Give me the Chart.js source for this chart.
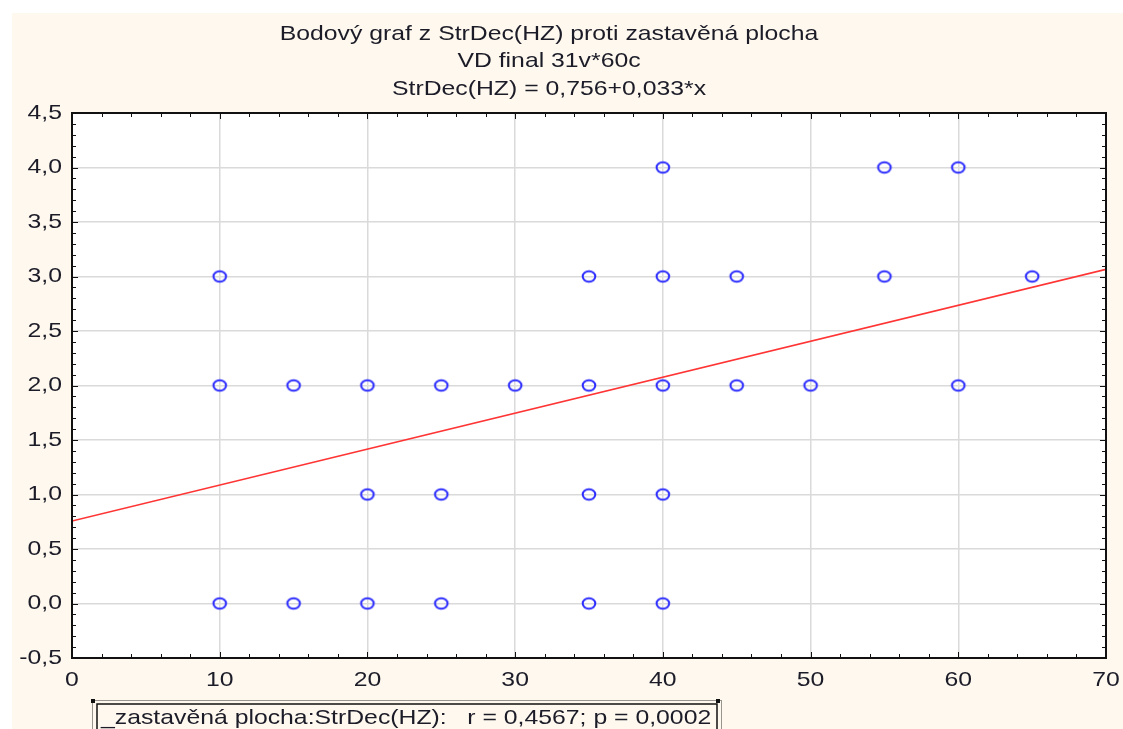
<!DOCTYPE html>
<html>
<head>
<meta charset="utf-8">
<script src="https://cdn.jsdelivr.net/npm/chart.js@4.4.1/dist/chart.umd.min.js"></script>
<style>
  html, body { margin: 0; padding: 0; background: #ffffff; }
  #wrap { position: relative; width: 1123px; height: 729px; overflow: hidden; }
  canvas { position: absolute; left: 0; top: 0; }
</style>
</head>
<body>
<div id="wrap"><canvas id="scatter" width="1123" height="729"></canvas></div>
<script>
// zastavěná plocha (x) vs StrDec(HZ) (y)
const plochaValues = [10, 10, 10, 15, 15, 20, 20, 20, 25, 25, 25, 30, 35, 35, 35, 35, 40, 40, 40, 40, 40, 45, 45, 50, 55, 55, 60, 60, 65];
const strDecValues = [3, 2, 0, 2, 0, 2, 1, 0, 2, 1, 0, 2, 3, 2, 1, 0, 4, 3, 2, 1, 0, 3, 2, 2, 4, 3, 4, 2, 3];

// regression StrDec(HZ) = 0,756 + 0,033*x
const fitIntercept = 0.756;
const fitSlope = 0.033;
const fitRange = [0, 70];

const xTicks = [0, 10, 20, 30, 40, 50, 60, 70];
const yTicks = [-0.5, 0, 0.5, 1, 1.5, 2, 2.5, 3, 3.5, 4, 4.5];

const titleLines = [
    'Bodový graf z StrDec(HZ) proti zastavěná plocha',
    'VD final 31v*60c',
    'StrDec(HZ) = 0,756+0,033*x'
];
const statsText = '_zastavěná plocha:StrDec(HZ):   r = 0,4567; p = 0,0002';

const FONT = '"Liberation Sans", Arial, sans-serif';
const TEXT_COLOR = '#1c1c28';
const STRETCH = 1.18; // the whole graphic is a little wider than tall

function decimalComma(v) {
    return v.toFixed(1).replace('.', ',');
}

// draw text widened horizontally around its anchor point
function wideText(ctx, text, x, y, align) {
    ctx.save();
    ctx.translate(x, y);
    ctx.scale(STRETCH, 1);
    ctx.textAlign = align;
    ctx.fillText(text, 0, 0);
    ctx.restore();
}

// open oval marker, slightly wider than tall
function makeMarker() {
    const c = document.createElement('canvas');
    c.width = 18;
    c.height = 16;
    const g = c.getContext('2d');
    g.strokeStyle = '#2b2bff';
    g.lineWidth = 2;
    g.beginPath();
    g.ellipse(9, 8, 6.3, 5.2, 0, 0, Math.PI * 2);
    g.stroke();
    return c;
}

const scatterPoints = plochaValues.map((x, i) => ({ x: x, y: strDecValues[i] }));
const fitPoints = fitRange.map(x => ({ x: x, y: fitIntercept + fitSlope * x }));

const framePlugin = {
    id: 'frame',
    beforeDraw(chart) {
        const ctx = chart.ctx;
        const a = chart.chartArea;
        ctx.save();
        ctx.fillStyle = '#ffffff';
        ctx.fillRect(0, 0, chart.width, chart.height);
        ctx.fillStyle = '#fef8ee';
        ctx.fillRect(12, 13, chart.width - 12, chart.height - 13);
        ctx.fillStyle = '#ffffff';
        ctx.fillRect(a.left, a.top, a.right - a.left, a.bottom - a.top);
        ctx.restore();
    },
    afterDraw(chart) {
        const ctx = chart.ctx;
        const a = chart.chartArea;
        const xs = chart.scales.x;
        const ys = chart.scales.y;
        ctx.save();

        // inward tick marks on all four sides
        ctx.strokeStyle = '#111111';
        ctx.lineWidth = 1;
        ctx.beginPath();
        for (let v = 0; v <= 70; v += 2) {
            const len = v % 10 === 0 ? 6 : 4;
            const px = Math.round(xs.getPixelForValue(v)) + 0.5;
            ctx.moveTo(px, a.bottom);
            ctx.lineTo(px, a.bottom - len);
            ctx.moveTo(px, a.top);
            ctx.lineTo(px, a.top + len);
        }
        for (let i = -5; i <= 45; i++) {
            const len = i % 5 === 0 ? 6 : 4;
            const py = Math.round(ys.getPixelForValue(i / 10)) + 0.5;
            ctx.moveTo(a.left, py);
            ctx.lineTo(a.left + len, py);
            ctx.moveTo(a.right, py);
            ctx.lineTo(a.right - len, py);
        }
        ctx.stroke();

        // plot frame
        ctx.lineWidth = 2;
        ctx.strokeStyle = '#111111';
        ctx.strokeRect(a.left, a.top, a.right - a.left, a.bottom - a.top);

        ctx.fillStyle = TEXT_COLOR;
        ctx.font = '21px ' + FONT;

        // axis labels
        ctx.textBaseline = 'middle';
        xs.ticks.forEach(t => {
            wideText(ctx, String(t.value), xs.getPixelForValue(t.value), a.bottom + 22, 'center');
        });
        ys.ticks.forEach(t => {
            wideText(ctx, decimalComma(t.value), a.left - 10, ys.getPixelForValue(t.value), 'right');
        });

        // title block
        titleLines.forEach((line, i) => {
            wideText(ctx, line, 549, 34 + i * 27.5, 'center');
        });

        // statistics box under the x axis
        ctx.lineWidth = 1;
        ctx.setLineDash([1, 1]);
        ctx.strokeStyle = '#333333';
        ctx.strokeRect(92.5, 700.5, 629, 40);
        ctx.setLineDash([]);
        ctx.lineWidth = 1.5;
        ctx.strokeStyle = '#111111';
        ctx.strokeRect(97, 704, 620, 40);
        ctx.fillStyle = '#111111';
        ctx.fillRect(91, 699, 4, 4);
        ctx.fillRect(716, 699, 4, 4);

        ctx.fillStyle = TEXT_COLOR;
        ctx.textBaseline = 'alphabetic';
        wideText(ctx, statsText, 101, 724, 'left');
        ctx.restore();
    }
};

new Chart(document.getElementById('scatter'), {
    type: 'scatter',
    data: {
        datasets: [
            {
                label: 'StrDec(HZ)',
                data: scatterPoints,
                pointStyle: makeMarker(),
                pointRadius: 8,
                pointHoverRadius: 8
            },
            {
                type: 'line',
                label: 'fit',
                data: fitPoints,
                borderColor: '#ff3535',
                borderWidth: 1.6,
                pointRadius: 0,
                fill: false,
                tension: 0
            }
        ]
    },
    options: {
        responsive: false,
        animation: false,
        events: [],
        layout: { padding: { top: 113, right: 17, bottom: 0, left: 0 } },
        plugins: {
            legend: { display: false },
            title: { display: false },
            tooltip: { enabled: false }
        },
        scales: {
            x: {
                type: 'linear',
                min: 0,
                max: 70,
                afterBuildTicks(scale) {
                    scale.ticks = xTicks.map(v => ({ value: v }));
                },
                afterFit(scale) {
                    scale.height = 71;
                    scale.paddingLeft = 0;
                    scale.paddingRight = 0;
                },
                border: { display: false },
                grid: { color: '#dadada', lineWidth: 1.5, drawTicks: false },
                ticks: { display: false }
            },
            y: {
                type: 'linear',
                min: -0.5,
                max: 4.5,
                afterBuildTicks(scale) {
                    scale.ticks = yTicks.map(v => ({ value: v }));
                },
                afterFit(scale) {
                    scale.width = 72;
                    scale.paddingTop = 0;
                    scale.paddingBottom = 0;
                },
                border: { display: false },
                grid: { color: '#dadada', lineWidth: 1.5, drawTicks: false },
                ticks: { display: false }
            }
        }
    },
    plugins: [framePlugin]
});
</script>
</body>
</html>
